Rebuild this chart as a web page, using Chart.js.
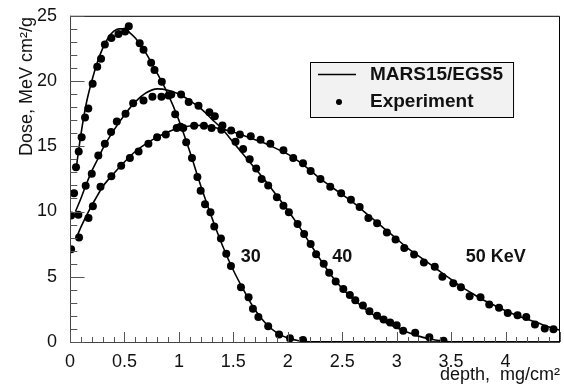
<!DOCTYPE html>
<html>
<head>
<meta charset="utf-8">
<script src="https://cdn.jsdelivr.net/npm/chart.js@4.4.1/dist/chart.umd.min.js"></script>
<style>
  html, body { margin: 0; padding: 0; background: #fff; }
  #doseChart { display: block; }
</style>
</head>
<body>
<canvas id="doseChart" width="564" height="385"></canvas>
<script>
// Depth dose curves, 30/40/50 keV photons
// depth in mg/cm^2, dose in MeV cm^2/g

// MARS15/EGS5 simulation
const sim30Depth = [0.055, 0.1, 0.15, 0.2, 0.25, 0.3, 0.35, 0.4, 0.45, 0.5, 0.55, 0.6, 0.7, 0.8, 0.9, 1.0, 1.1, 1.2, 1.3, 1.4, 1.5, 1.6, 1.7, 1.8, 1.9, 2.0, 2.1, 2.2, 4.5];
const sim30Dose  = [13.2, 15.9, 18.3, 20.0, 21.4, 22.5, 23.3, 23.8, 24.0, 24.0, 23.7, 23.3, 22.1, 20.6, 19.0, 17.0, 14.6, 12.0, 9.6, 7.4, 5.5, 3.9, 2.45, 1.4, 0.7, 0.3, 0.1, 0.02, 0];

const sim40Depth = [0.05, 0.1, 0.15, 0.2, 0.26, 0.3, 0.4, 0.5, 0.6, 0.7, 0.8, 0.9, 1.0, 1.1, 1.2, 1.3, 1.4, 1.5, 1.6, 1.7, 1.8, 1.9, 2.0, 2.1, 2.2, 2.3, 2.4, 2.5, 2.6, 2.7, 2.8, 2.9, 3.0, 3.1, 3.2, 3.3, 3.4, 3.5, 4.5];
const sim40Dose  = [10.0, 11.0, 12.1, 13.1, 14.1, 14.8, 16.2, 17.4, 18.4, 19.1, 19.4, 19.3, 19.0, 18.5, 17.9, 17.1, 16.3, 15.3, 14.3, 13.3, 12.3, 11.2, 10.1, 8.9, 7.6, 6.3, 5.1, 4.1, 3.3, 2.6, 2.0, 1.5, 1.1, 0.75, 0.45, 0.25, 0.1, 0.02, 0];

const sim50Depth = [0.06, 0.1, 0.17, 0.25, 0.3, 0.4, 0.5, 0.6, 0.7, 0.8, 0.9, 1.0, 1.1, 1.2, 1.3, 1.4, 1.5, 1.6, 1.7, 1.8, 1.9, 2.0, 2.1, 2.2, 2.3, 2.4, 2.5, 2.6, 2.7, 2.8, 2.9, 3.0, 3.1, 3.2, 3.3, 3.4, 3.5, 3.6, 3.7, 3.8, 3.9, 4.0, 4.1, 4.2, 4.3, 4.4, 4.5];
const sim50Dose  = [8.0, 8.8, 10.0, 11.2, 11.9, 12.9, 13.8, 14.6, 15.2, 15.7, 16.1, 16.4, 16.55, 16.6, 16.5, 16.3, 16.1, 15.8, 15.5, 15.2, 14.8, 14.4, 13.85, 13.2, 12.5, 11.9, 11.3, 10.7, 10.0, 9.3, 8.6, 7.9, 7.2, 6.6, 6.0, 5.4, 4.8, 4.2, 3.7, 3.2, 2.8, 2.4, 2.05, 1.75, 1.45, 1.15, 0.9];

// Experiment
const exp30Depth = [0.037, 0.055, 0.08, 0.107, 0.138, 0.168, 0.208, 0.25, 0.285, 0.32, 0.38, 0.445, 0.506, 0.54, 0.64, 0.675, 0.745, 0.776, 0.843, 0.905, 0.966, 1.015, 1.067, 1.12, 1.17, 1.2, 1.24, 1.29, 1.325, 1.386, 1.435, 1.478, 1.57, 1.64, 1.68, 1.73, 1.82, 1.92, 2.02, 2.14];
const exp30Dose  = [11.4, 13.4, 14.6, 15.7, 17.2, 17.9, 19.8, 21.1, 21.7, 22.8, 23.3, 23.6, 23.8, 24.2, 22.9, 22.4, 21.4, 20.85, 19.95, 18.9, 17.45, 16.5, 15.3, 14.1, 12.65, 11.6, 10.55, 9.95, 8.86, 7.93, 6.77, 5.83, 4.19, 3.43, 2.55, 1.92, 1.21, 0.58, 0.28, 0.15];

const exp40Depth = [0.01, 0.077, 0.144, 0.2, 0.26, 0.32, 0.377, 0.43, 0.51, 0.58, 0.675, 0.757, 0.84, 0.93, 1.02, 1.09, 1.18, 1.28, 1.33, 1.4, 1.52, 1.59, 1.65, 1.71, 1.76, 1.82, 1.9, 1.96, 2.01, 2.09, 2.15, 2.21, 2.26, 2.33, 2.38, 2.44, 2.51, 2.57, 2.62, 2.69, 2.75, 2.82, 2.88, 2.94, 3.0, 3.06, 3.17, 3.3, 3.43];
const exp40Dose  = [9.7, 9.75, 11.97, 12.9, 14.3, 15.2, 16.1, 16.9, 17.5, 18.3, 18.5, 18.8, 18.8, 18.96, 18.96, 18.4, 18.1, 17.6, 17.3, 16.6, 15.35, 14.8, 14.0, 13.3, 12.5, 12.0, 11.1, 10.45, 9.95, 9.04, 8.28, 7.52, 6.72, 6.0, 5.3, 4.64, 4.07, 3.6, 3.2, 2.8, 2.35, 2.02, 1.72, 1.49, 1.29, 0.86, 0.7, 0.36, 0.1];

const exp50Depth = [0.01, 0.083, 0.17, 0.21, 0.28, 0.38, 0.47, 0.55, 0.63, 0.72, 0.8, 0.88, 0.98, 1.04, 1.14, 1.23, 1.3, 1.39, 1.48, 1.56, 1.66, 1.75, 1.84, 1.96, 2.05, 2.14, 2.21, 2.3, 2.39, 2.49, 2.58, 2.66, 2.74, 2.82, 2.91, 2.99, 3.07, 3.16, 3.25, 3.35, 3.42, 3.52, 3.59, 3.67, 3.77, 3.85, 3.94, 4.02, 4.11, 4.19, 4.27, 4.36, 4.44];
const exp50Dose  = [7.1, 8.0, 9.5, 10.4, 11.9, 12.7, 13.5, 14.1, 14.6, 15.2, 15.7, 15.9, 16.4, 16.4, 16.57, 16.57, 16.4, 16.26, 16.2, 15.9, 15.76, 15.5, 15.2, 14.7, 14.1, 13.7, 13.1, 12.5, 11.9, 11.4, 10.9, 10.35, 9.5, 9.1, 8.4, 7.85, 7.2, 6.7, 6.1, 5.76, 5.0, 4.5, 4.19, 3.5, 3.43, 2.88, 2.63, 2.22, 2.05, 1.92, 1.34, 1.04, 0.98];

// axes
const xTickLabels = ['0', '0.5', '1', '1.5', '2', '2.5', '3', '3.5', '4', ''];
const yTickLabels = ['0', '5', '10', '15', '20', '25'];
const xTitle = 'depth,  mg/cm\u00B2';
const yTitle = 'Dose, MeV cm\u00B2/g';

// energy labels on the curves
const curveLabels = ['30', '40', '50 KeV'];
const curveLabelDepth = [1.66, 2.5, 3.91];
const curveLabelDose = [6.1, 6.1, 6.1];

const legendLabels = ['MARS15/EGS5', 'Experiment'];

const FONT = '"Liberation Sans", Arial, Helvetica, sans-serif';
const zip = (xs, ys) => xs.map((v, i) => ({ x: v, y: ys[i] }));

const simStyle = {
  showLine: true, borderColor: '#000', borderWidth: 1.6, pointRadius: 0,
  cubicInterpolationMode: 'monotone', fill: false
};
const expStyle = {
  showLine: false, pointRadius: 4, pointBackgroundColor: '#000',
  pointBorderColor: '#000', pointBorderWidth: 0
};

// ROOT-like frame: inward ticks, titles, energy labels, legend box
const rootFrame = {
  id: 'rootFrame',
  afterDatasetsDraw(chart) {
    const { ctx, chartArea: a, scales: { x, y } } = chart;
    ctx.save();

    // frame
    ctx.strokeStyle = '#000';
    ctx.lineWidth = 1;
    ctx.beginPath();
    ctx.moveTo(a.left, a.top + 0.5); ctx.lineTo(a.right - 0.5, a.top + 0.5);
    ctx.lineTo(a.right - 0.5, a.bottom);
    ctx.stroke();
    ctx.strokeStyle = '#444';
    ctx.beginPath();
    ctx.moveTo(a.left + 0.5, a.top); ctx.lineTo(a.left + 0.5, a.bottom + 0.5);
    ctx.lineTo(a.right, a.bottom + 0.5);
    ctx.stroke();

    // ticks
    ctx.strokeStyle = '#555';
    ctx.beginPath();
    for (let i = 0; i <= Math.round(x.max * 10); i++) {
      const px = Math.round(x.getPixelForValue(i / 10)) + 0.5;
      const len = i % 5 === 0 ? 10 : 5;
      ctx.moveTo(px, a.bottom); ctx.lineTo(px, a.bottom - len);
    }
    for (let i = 0; i <= y.max; i++) {
      const py = Math.round(y.getPixelForValue(i)) + 0.5;
      const len = i % 5 === 0 ? 14.5 : 7.3;
      ctx.moveTo(a.left, py); ctx.lineTo(a.left + len, py);
    }
    ctx.stroke();

    // axis titles
    ctx.fillStyle = '#111';
    ctx.font = '18px ' + FONT;
    ctx.textAlign = 'right';
    ctx.textBaseline = 'alphabetic';
    ctx.fillText(xTitle, a.right, 380);
    ctx.save();
    ctx.translate(32, 17);
    ctx.rotate(-Math.PI / 2);
    ctx.fillText(yTitle, 0, 0);
    ctx.restore();

    // energy labels
    ctx.font = 'bold 18px ' + FONT;
    ctx.textAlign = 'center';
    curveLabels.forEach((t, i) => {
      ctx.fillText(t, x.getPixelForValue(curveLabelDepth[i]), y.getPixelForValue(curveLabelDose[i]));
    });

    // legend
    const bx = 310, by = 62, bh = 55;
    ctx.font = 'bold 19px ' + FONT;
    const tw = Math.max(...legendLabels.map(t => ctx.measureText(t).width));
    const bw = 370 - bx + tw + 10;
    ctx.fillStyle = '#f2f2f2';
    ctx.fillRect(bx, by, bw, bh);
    ctx.strokeStyle = '#000';
    ctx.strokeRect(bx + 0.5, by + 0.5, bw, bh);
    ctx.beginPath();
    ctx.lineWidth = 1.6;
    ctx.moveTo(318, by + 12.5); ctx.lineTo(356, by + 12.5);
    ctx.stroke();
    ctx.fillStyle = '#000';
    ctx.beginPath();
    ctx.arc(339, by + 40, 3, 0, Math.PI * 2);
    ctx.fill();
    ctx.textAlign = 'left';
    ctx.textBaseline = 'middle';
    ctx.fillStyle = '#111';
    ctx.fillText(legendLabels[0], 370, by + 13);
    ctx.fillText(legendLabels[1], 370, by + 40);

    ctx.restore();
  }
};

new Chart(document.getElementById('doseChart'), {
  type: 'scatter',
  data: {
    datasets: [
      { label: '30 keV sim', data: zip(sim30Depth, sim30Dose), ...simStyle },
      { label: '40 keV sim', data: zip(sim40Depth, sim40Dose), ...simStyle },
      { label: '50 keV sim', data: zip(sim50Depth, sim50Dose), ...simStyle },
      { label: '30 keV exp', data: zip(exp30Depth, exp30Dose), ...expStyle },
      { label: '40 keV exp', data: zip(exp40Depth, exp40Dose), ...expStyle },
      { label: '50 keV exp', data: zip(exp50Depth, exp50Dose), ...expStyle }
    ]
  },
  options: {
    responsive: false, animation: false,
    layout: { padding: { left: 0, right: 4, top: 12, bottom: 0 } },
    plugins: { legend: { display: false }, tooltip: { enabled: false } },
    scales: {
      x: {
        type: 'linear', min: 0, max: 4.5,
        afterFit: s => { s.height = 43; },
        grid: { display: false }, border: { display: false },
        ticks: {
          stepSize: 0.5, padding: 1, maxRotation: 0, autoSkip: false,
          color: '#111', font: { size: 18, family: FONT },
          callback: (v, i) => xTickLabels[i] ?? ''
        }
      },
      y: {
        min: 0, max: 25,
        afterFit: s => { s.width = 70; },
        grid: { display: false }, border: { display: false },
        ticks: {
          stepSize: 5, padding: 5,
          color: '#111', font: { size: 18, family: FONT },
          callback: (v, i) => yTickLabels[i] ?? ''
        }
      }
    }
  },
  plugins: [rootFrame]
});
</script>
</body>
</html>
